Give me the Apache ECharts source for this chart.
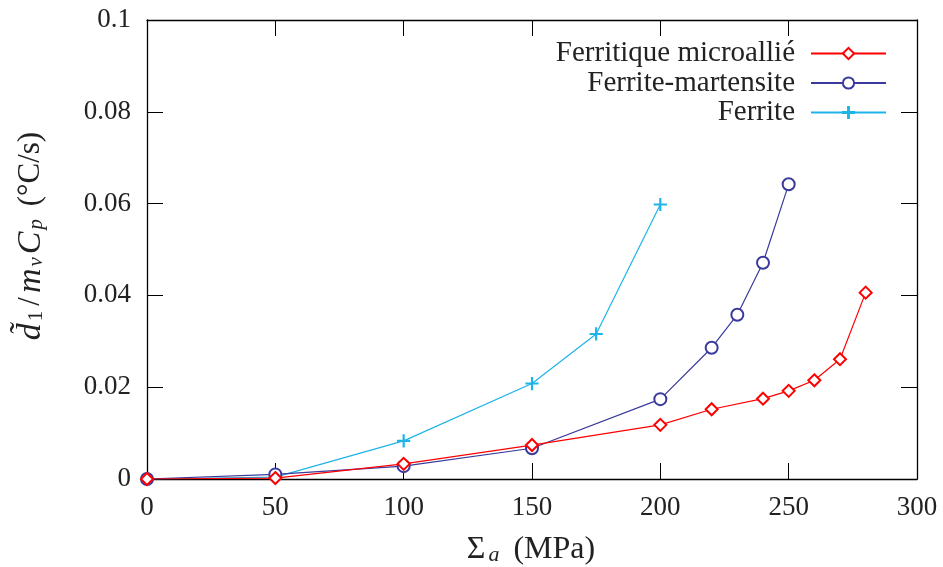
<!DOCTYPE html>
<html>
<head>
<meta charset="utf-8">
<script src="https://cdn.jsdelivr.net/npm/echarts@6/dist/echarts.min.js"></script>
<style>html,body{margin:0;padding:0;background:#fff}#c{width:943px;height:567px}</style>
</head>
<body>
<div id="c"></div>
<script>
const xMicro = [0, 50, 100, 150, 200, 220, 240, 250, 260, 270, 280];
const yMicro = [0, 0.0002, 0.0033, 0.0074, 0.0118, 0.0152, 0.0175, 0.0192, 0.0215, 0.0261, 0.0406];
const xFM = [0, 50, 100, 150, 200, 220, 230, 240, 250];
const yFM = [0, 0.001, 0.0028, 0.0067, 0.0174, 0.0286, 0.0358, 0.0471, 0.0642];
const xFer = [0, 50, 100, 150, 175, 200];
const yFer = [0, 0.0004, 0.0083, 0.0208, 0.0316, 0.0598];
const names = ['Ferritique microallié', 'Ferrite-martensite', 'Ferrite'];
const colors = ['#ff0000', '#3a3a9c', '#1eb4e8'];
const symbols = ['emptyDiamond', 'emptyCircle', 'path://M0,4.6H10V5.4H0Z M4.6,0H5.4V10H4.6Z'];
const symbolSizes = [12, 12, 12];

const FONT = 'Liberation Serif';
const TXT = '#222';
const pair = (xs, ys) => xs.map((x, i) => [x, ys[i]]);
const seriesData = [pair(xMicro, yMicro), pair(xFM, yFM), pair(xFer, yFer)];

const chart = echarts.init(document.getElementById('c'), null, {renderer: 'canvas'});
const axisCommon = {
  axisLine: {show: true, onZero: false, lineStyle: {color: '#000', width: 1.3}},
  axisTick: {show: true, inside: true, length: 16, lineStyle: {color: '#000', width: 1}},
  splitLine: {show: false}
};
const legends = names.map((n, i) => ({
  data: [n], orient: 'vertical', align: 'right', right: 51, top: 34 + i * 29.5,
  itemWidth: 75, itemHeight: 14, itemGap: 0,
  textStyle: {fontFamily: FONT, fontSize: 29, color: TXT, padding: [0, 11, 0, 0]}
}));
chart.setOption({
  animation: false,
  backgroundColor: '#fff',
  grid: {left: 147, right: 26, top: 20, bottom: 88, containLabel: false, outerBoundsMode: 'none'},
  legend: legends,
  xAxis: [
    Object.assign({type: 'value', min: 0, max: 300, interval: 50, position: 'bottom',
      name: '{n|Σ}{si|a}{n| (MPa)}', nameLocation: 'middle', nameGap: 55,
      nameTextStyle: {fontFamily: FONT, fontSize: 32, color: TXT, rich: {
        n: {fontFamily: FONT, fontSize: 32, color: TXT, padding: [0, 2, 0, 0]},
        si: {fontFamily: FONT, fontSize: 22, fontStyle: 'italic', color: TXT, padding: [10, 6, 0, 1]}
      }},
      axisLabel: {fontFamily: FONT, fontSize: 27, color: TXT, margin: 15}}, axisCommon),
    Object.assign({type: 'value', min: 0, max: 300, interval: 50, position: 'top',
      axisLabel: {show: false}}, axisCommon)
  ],
  yAxis: [
    Object.assign({type: 'value', min: 0, max: 0.1, interval: 0.02, position: 'left',
      name: '{d|d̃}{s|1}{n|/}{i|m}{si|v}{i|C}{si|p}{n| (°C/s)}', nameLocation: 'middle', nameGap: 99,
      nameTextStyle: {fontFamily: FONT, fontSize: 31, color: TXT, rich: {
        d: {fontFamily: FONT, fontSize: 34, fontStyle: 'italic', color: TXT, padding: [0, 1, 0, 30]},
        i: {fontFamily: FONT, fontSize: 34, fontStyle: 'italic', color: TXT, padding: [0, 1, 0, 1]},
        n: {fontFamily: FONT, fontSize: 31, color: TXT, padding: [0, 3, 0, 3]},
        s: {fontFamily: FONT, fontSize: 21, color: TXT, padding: [11, 2, 0, 1]},
        si: {fontFamily: FONT, fontSize: 21, fontStyle: 'italic', color: TXT, padding: [11, 2, 0, 1]}
      }},
      axisLabel: {fontFamily: FONT, fontSize: 27, color: TXT, margin: 16,
        formatter: v => (Math.round(v * 100) / 100).toString()}}, axisCommon),
    Object.assign({type: 'value', min: 0, max: 0.1, interval: 0.02, position: 'right',
      axisLabel: {show: false}}, axisCommon)
  ],
  series: names.map((n, i) => ({
    name: n, type: 'line', data: seriesData[i], xAxisIndex: 0, yAxisIndex: 0,
    symbol: symbols[i], symbolSize: symbolSizes[i], showAllSymbol: true,
    lineStyle: {color: colors[i], width: 1.2},
    itemStyle: {color: colors[i], borderColor: colors[i], borderWidth: 1.2},
    z: 3 - i
  }))
});
</script>
</body>
</html>
